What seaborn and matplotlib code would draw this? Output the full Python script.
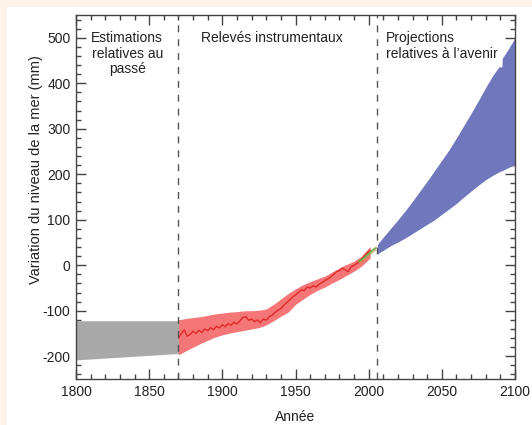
import matplotlib
matplotlib.use("Agg")
import matplotlib.pyplot as plt
import seaborn as sns
import pandas as pd
from matplotlib.ticker import MultipleLocator
from matplotlib.patches import Rectangle

# past estimates (grey band)
past_years = [1800, 1870]
past_upper = [-122, -122]
past_lower = [-208, -194]

# instrumental record (red line + band)
obs_years = [1870, 1872, 1874, 1876, 1878, 1880, 1882, 1884, 1886, 1888,
             1890, 1892, 1894, 1896, 1898, 1900, 1902, 1904, 1906, 1908,
             1910, 1912, 1914, 1916, 1918, 1920, 1922, 1924, 1926, 1928,
             1930, 1932, 1934, 1936, 1938, 1940, 1942, 1944, 1946, 1948,
             1950, 1952, 1954, 1956, 1958, 1960, 1962, 1964, 1966, 1968,
             1970, 1972, 1974, 1976, 1978, 1980, 1982, 1984, 1986, 1988,
             1990, 1992, 1994, 1996, 1998, 2000, 2001]
obs_level = [-160, -150, -142, -156, -152, -145, -150, -143, -148, -140,
             -144, -137, -142, -134, -138, -131, -135, -128, -132, -125,
             -129, -122, -115, -113, -121, -118, -124, -120, -126, -118,
             -121, -113, -110, -104, -99, -95, -88, -82, -76, -70,
             -65, -60, -54, -56, -48, -50, -45, -48, -42, -38,
             -34, -30, -26, -20, -14, -12, -6, -10, -14, -4,
             0, 4, 10, 16, 24, 30, 33]
band_years = [1870, 1875, 1880, 1885, 1890, 1895, 1900, 1905, 1910, 1915,
              1920, 1925, 1930, 1935, 1940, 1945, 1950, 1955, 1960, 1965,
              1970, 1975, 1980, 1985, 1990, 1995, 2000, 2001]
band_upper = [-120, -117, -115, -113, -110, -107, -105, -103, -102, -100,
              -100, -99, -96, -86, -74, -62, -52, -43, -36, -30,
              -24, -15, -6, 2, 9, 20, 38, 41]
band_lower = [-197, -188, -180, -172, -165, -158, -153, -149, -146, -143,
              -140, -137, -131, -122, -112, -103, -86, -75, -64, -55,
              -48, -39, -31, -22, -13, -2, 13, 16]

# satellite altimetry (green)
sat_years = [1993, 1995, 1997, 1999, 2001, 2003, 2005]
sat_level = [8, 12, 17, 23, 28, 34, 38]

# projections (blue band)
proj_years = [2006, 2010, 2015, 2020, 2025, 2030, 2035, 2040, 2045, 2050, 2055,
              2060, 2065, 2070, 2075, 2080, 2085, 2089, 2091, 2091.3, 2095, 2100]
proj_upper = [46, 62, 81, 100, 120, 141, 163, 185, 208, 231, 254,
              280, 307, 334, 362, 391, 418, 436, 436, 455, 473, 500]
proj_lower = [25, 33, 43, 51, 60, 70, 80, 90, 100, 112, 124,
              136, 150, 163, 176, 188, 198, 205, 208, 208, 214, 221]

sns.set_style("ticks")
plt.rcParams["font.family"] = ["Liberation Sans", "DejaVu Sans"]
plt.rcParams.update({
    "axes.unicode_minus": False,
    "xtick.direction": "in", "ytick.direction": "in",
    "xtick.top": True, "xtick.bottom": True,
    "ytick.left": True, "ytick.right": True,
    "xtick.major.size": 7, "ytick.major.size": 7,
    "xtick.minor.size": 3.5, "ytick.minor.size": 3.5,
    "xtick.major.width": 1, "ytick.major.width": 1,
    "xtick.minor.width": 1, "ytick.minor.width": 1,
    "xtick.color": "#444444", "ytick.color": "#444444",
})

fig = plt.figure(figsize=(5.32, 4.25), dpi=100, facecolor="#fdf3e8")
fig.patches.append(Rectangle((7 / 532, 0), 1, 1 - 7 / 425, transform=fig.transFigure,
                             facecolor="white", edgecolor="none", zorder=-10))
ax = fig.add_axes([76 / 532, 1 - 379 / 425, (515 - 76) / 532, (379 - 15) / 425])
ax.set_zorder(5)
ax.set_facecolor("white")

ax.fill_between(past_years, past_lower, past_upper, color="#a9a9a9", lw=0)
ax.fill_between(band_years, band_lower, band_upper, color="#f47676", lw=0)
obs = pd.DataFrame({"year": obs_years, "level": obs_level})
sns.lineplot(data=obs, x="year", y="level", color="#e02a2a", lw=1.0, ax=ax)
ax.fill_between(sat_years, [v - 5 for v in sat_level], [v + 5 for v in sat_level],
                color="#b59a5a", alpha=0.6, lw=0)
sat = pd.DataFrame({"year": sat_years, "level": sat_level})
sns.lineplot(data=sat, x="year", y="level", color="#5cb83a", lw=1.0, ax=ax)
ax.fill_between(proj_years, proj_lower, proj_upper, color="#7177bd", lw=0)

for xv in [1870, 2006]:
    ax.axvline(xv, color="#555555", lw=1.0, ls=(0, (5, 5)))

ax.set_xlim(1800, 2100)
ax.set_ylim(-250, 550)
ax.xaxis.set_major_locator(MultipleLocator(50))
ax.xaxis.set_minor_locator(MultipleLocator(10))
ax.yaxis.set_major_locator(MultipleLocator(100))
ax.yaxis.set_minor_locator(MultipleLocator(20))
ax.tick_params(which="both", direction="in", top=True, right=True, bottom=True, left=True,
               color="#444444", labelsize=10, labelcolor="#222222", width=1)
ax.tick_params(which="major", length=7, pad=4)
ax.tick_params(which="minor", length=3.5)
for s in ax.spines.values():
    s.set_visible(True)
    s.set_color("#444444")
    s.set_linewidth(1)

ax.set_xlabel("Année", fontsize=10, color="#222222", labelpad=8)
ax.set_ylabel("Variation du niveau de la mer (mm)", fontsize=10.5, color="#222222")
ax.yaxis.set_label_coords(-0.075, 0.575)

ax.text(1835, 515, "Estimations\nrelatives au\npassé", ha="center", va="top",
        fontsize=10, color="#222222", linespacing=1.15)
ax.text(1934, 515, "Relevés instrumentaux", ha="center", va="top",
        fontsize=10, color="#222222")
ax.text(2012, 515, "Projections\nrelatives à l’avenir", ha="left", va="top",
        fontsize=10, color="#222222", linespacing=1.15)

fig.savefig("out.png", dpi=100, facecolor=fig.get_facecolor())
